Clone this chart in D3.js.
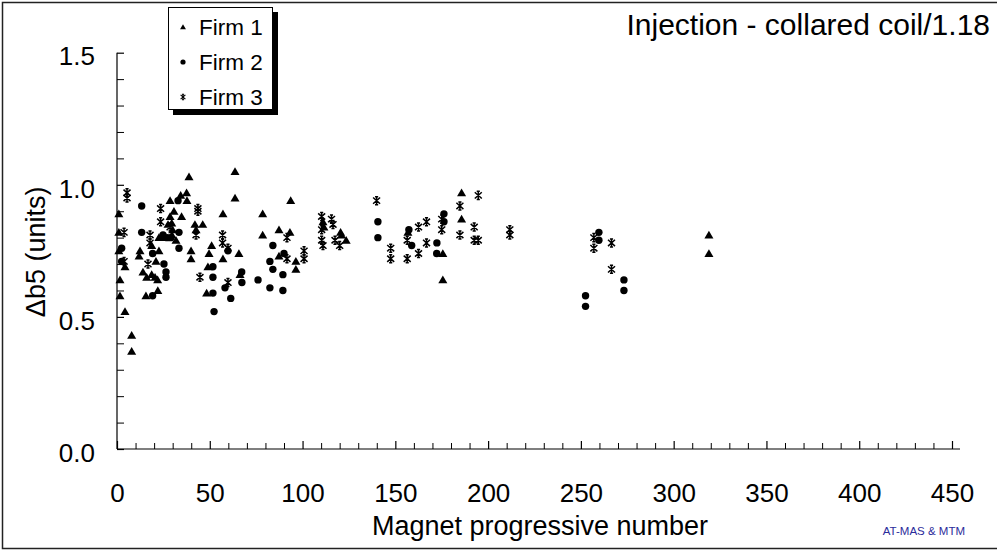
<!DOCTYPE html>
<html>
<head>
<meta charset="utf-8">
<script src="https://cdn.jsdelivr.net/npm/d3@7"></script>
<style>
  html, body { margin: 0; padding: 0; background: #fff; }
  svg { display: block; font-family: Arial, "Liberation Sans", sans-serif; }
</style>
</head>
<body>
<svg id="chart" width="997" height="551"></svg>
<script>
// ---------- data ----------
const firm1 = [
  [1,0.89],[1,0.82],[1,0.75],[1.6,0.64],[1.6,0.58],[4.3,0.69],[4.3,0.52],[7.9,0.43],[7.9,0.37],
  [12.4,0.75],[11.9,0.73],[14,0.67],[15.6,0.58],[16,0.65],[18.7,0.77],[18.7,0.66],[20.5,0.65],
  [21,0.71],[22,0.60],[21.9,0.64],[22.6,0.75],[22.6,0.80],[24.8,0.80],[28.6,0.94],[28.6,0.88],
  [29.5,0.855],[29.6,0.81],[30.7,0.90],[31.8,0.79],[34.3,0.96],[34.8,0.88],[37.5,0.97],[37.7,0.94],
  [38.8,1.03],[27.5,0.85],[30,0.83],[39.9,0.75],[39.9,0.72],[42,0.85],[42.6,0.83],[46.2,0.85],
  [48.3,0.59],[49,0.69],[49.6,0.74],[51,0.77],[57.1,0.89],[57.1,0.72],[63.6,1.05],[63.6,0.95],
  [65.7,0.74],[66.3,0.66],[78.5,0.89],[78.5,0.81],[87.3,0.83],[87.3,0.73],[93.2,0.82],[93.6,0.94],
  [96.4,0.71],[96.4,0.68],[111,0.86],[111.5,0.84],[120.5,0.82],[121,0.81],[123.5,0.79],
  [156.8,0.82],[175.6,0.74],[175.6,0.64],[185.7,0.97],[185.7,0.87],[319,0.81],[319,0.74]
];
const firm2 = [
  [2.5,0.76],[2.5,0.71],[13.3,0.92],[13.3,0.82],[19.2,0.74],[19.2,0.58],[24.8,0.81],[25.3,0.70],
  [26.4,0.67],[26.4,0.65],[27,0.80],[29,0.80],[32.9,0.94],[33.4,0.82],[33.4,0.76],[51.7,0.69],
  [51.7,0.65],[51.7,0.59],[52.3,0.52],[58.2,0.61],[59.8,0.75],[61.3,0.57],[67.2,0.67],[67.3,0.63],
  [76,0.64],[82.4,0.71],[82.4,0.61],[84,0.77],[84,0.68],[89.4,0.66],[89.4,0.60],[90,0.74],
  [140.6,0.86],[140.6,0.80],[157.3,0.83],[158.8,0.77],[172.3,0.74],[172.4,0.78],[176.2,0.89],
  [176.2,0.86],[252.5,0.58],[252.5,0.54],[259.7,0.82],[259.7,0.79],[273.2,0.64],[273.2,0.60]
];
const firm3 = [
  [3.8,0.82],[3.8,0.71],[5.4,0.97],[5.4,0.95],[16.7,0.70],[17.8,0.81],[17.8,0.78],[23.5,0.91],
  [23.5,0.86],[28.6,0.84],[42.6,0.81],[43.6,0.91],[43.6,0.90],[44.7,0.65],[56.9,0.81],[56.9,0.78],
  [59.8,0.76],[59.8,0.63],[91.6,0.80],[91.6,0.72],[100.8,0.75],[100.8,0.72],[110.3,0.88],
  [110.3,0.83],[110.3,0.79],[111,0.77],[115.6,0.87],[116.4,0.85],[117.5,0.79],[120,0.77],
  [139.9,0.94],[147.5,0.76],[147.5,0.72],[156.4,0.79],[156.4,0.72],[162.5,0.84],[162.5,0.74],
  [166.8,0.86],[166.8,0.78],[175,0.87],[175,0.83],[184.8,0.92],[184.8,0.81],[192.5,0.84],
  [192.5,0.79],[194.7,0.96],[194.7,0.79],[211.7,0.83],[211.7,0.81],[257,0.80],[257,0.76],
  [266.5,0.78],[266.5,0.68]
];
const seriesNames = ["Firm 1", "Firm 2", "Firm 3"];
const xTicks = [0, 50, 100, 150, 200, 250, 300, 350, 400, 450];
const yTicks = [0, 0.5, 1.0, 1.5];
const yTickLabels = ["0.0", "0.5", "1.0", "1.5"];
const titleText = "Injection - collared coil/1.18";
const xTitle = "Magnet progressive number";
const yTitle = "\u0394b5 (units)";
const creditText = "AT-MAS & MTM";

// ---------- layout ----------
const svg = d3.select("#chart");
const x = d3.scaleLinear().domain([0, 450]).range([117, 952]);
const y = d3.scaleLinear().domain([0, 1.5]).range([449, 52.7]);
const FONT = "Arial, 'Liberation Sans', sans-serif";

// outer frame
svg.append("rect").attr("x", 2.5).attr("y", 2.5).attr("width", 1000).attr("height", 546)
  .attr("fill", "none").attr("stroke", "#222").attr("stroke-width", 1.5);

// x axis
const xMinor = d3.range(0, 451, 10).filter(v => v % 50 !== 0);
const gx = svg.append("g").attr("transform", `translate(0,${y(0)})`);
gx.call(d3.axisBottom(x).tickValues(xTicks).tickSize(-8).tickPadding(34.5).tickFormat(d3.format("d")));
gx.select(".domain").remove();
gx.selectAll(".tick line").attr("stroke", "#000").attr("stroke-width", 1.2);
gx.selectAll("text").attr("font-size", 26).attr("fill", "#000").attr("font-family", FONT);
const gxm = svg.append("g").attr("transform", `translate(0,${y(0)})`);
gxm.call(d3.axisBottom(x).tickValues(xMinor).tickSize(-6).tickFormat(""));
gxm.select(".domain").remove();
gxm.selectAll(".tick line").attr("stroke", "#000");
svg.append("line").attr("x1", x(0)).attr("x2", x(450) + 8).attr("y1", y(0)).attr("y2", y(0))
  .attr("stroke", "#000").attr("stroke-width", 1.2);

// y axis
const yMinor = d3.range(1, 15).map(v => v / 10).filter(v => Math.abs(v - 0.5) > 1e-6 && Math.abs(v - 1) > 1e-6);
const gy = svg.append("g").attr("transform", `translate(${x(0)},0)`);
gy.call(d3.axisLeft(y).tickValues(yTicks).tickSize(-7).tickPadding(22).tickFormat((d, i) => yTickLabels[i]));
gy.select(".domain").remove();
gy.selectAll(".tick line").attr("stroke", "#000").attr("stroke-width", 1.2);
gy.selectAll("text").attr("font-size", 26).attr("fill", "#000").attr("dy", "0.47em").attr("font-family", FONT);
const gym = svg.append("g").attr("transform", `translate(${x(0)},0)`);
gym.call(d3.axisLeft(y).tickValues(yMinor).tickSize(-7).tickFormat(""));
gym.select(".domain").remove();
gym.selectAll(".tick line").attr("stroke", "#000");
svg.append("line").attr("x1", x(0)).attr("x2", x(0)).attr("y1", y(0)).attr("y2", y(1.5))
  .attr("stroke", "#000").attr("stroke-width", 1.2);

// axis titles
svg.append("text").attr("x", 540).attr("y", 535).attr("text-anchor", "middle")
  .attr("font-size", 27).text(xTitle);
svg.append("text").attr("transform", `translate(45,${(y(0) + y(1.5)) / 2 + 1}) rotate(-90)`)
  .attr("text-anchor", "middle").attr("font-size", 27).text(yTitle);

// title
svg.append("text").attr("x", 990).attr("y", 35).attr("text-anchor", "end").attr("font-size", 30).text(titleText);

// credit
svg.append("text").attr("x", 965).attr("y", 535).attr("text-anchor", "end").attr("font-size", 11.5)
  .attr("fill", "#2b2b9b").text(creditText);

// ---------- markers ----------
function triPath(s) { return `M0,${-s}L${s * 1.05},${s * 0.8}L${-s * 1.05},${s * 0.8}Z`; }
function starPath(s) { return `M${-s},${-s*0.9}L${s},${s*0.9}M${s},${-s*0.9}L${-s},${s*0.9}M0,${-s * 1.2}L0,${s * 1.2}M${-s*0.45},${-s*1.15}L${s*0.45},${-s*1.15}M${-s*0.45},${s*1.15}L${s*0.45},${s*1.15}`; }

const pts = svg.append("g");
pts.selectAll("path.f1").data(firm1).join("path").attr("class", "f1")
  .attr("transform", d => `translate(${x(d[0])},${y(d[1])})`)
  .attr("d", triPath(4.3)).attr("fill", "#000");
pts.selectAll("circle.f2").data(firm2).join("circle").attr("class", "f2")
  .attr("cx", d => x(d[0])).attr("cy", d => y(d[1])).attr("r", 3.7).attr("fill", "#000");
pts.selectAll("path.f3").data(firm3).join("path").attr("class", "f3")
  .attr("transform", d => `translate(${x(d[0])},${y(d[1])})`)
  .attr("d", starPath(3.5)).attr("fill", "none").attr("stroke", "#000").attr("stroke-width", 1.5);

// ---------- legend ----------
const lg = svg.append("g");
lg.append("rect").attr("x", 173).attr("y", 12).attr("width", 105).attr("height", 103).attr("fill", "#000");
lg.append("rect").attr("x", 168.5).attr("y", 7.5).attr("width", 104).attr("height", 102)
  .attr("fill", "#fff").attr("stroke", "#000").attr("stroke-width", 1);
const legendY = [27, 62, 97];
seriesNames.forEach((name, i) => {
  const cy = legendY[i];
  if (i === 0) lg.append("path").attr("transform", `translate(183,${cy})`).attr("d", triPath(2.8)).attr("fill", "#000");
  if (i === 1) lg.append("circle").attr("cx", 183).attr("cy", cy).attr("r", 2.6).attr("fill", "#000");
  if (i === 2) lg.append("path").attr("transform", `translate(183,${cy})`).attr("d", starPath(2.4))
    .attr("fill", "none").attr("stroke", "#000").attr("stroke-width", 1.1);
  lg.append("text").attr("x", 199).attr("y", cy + 8).attr("font-size", 22.5).text(name);
});
</script>
</body>
</html>
